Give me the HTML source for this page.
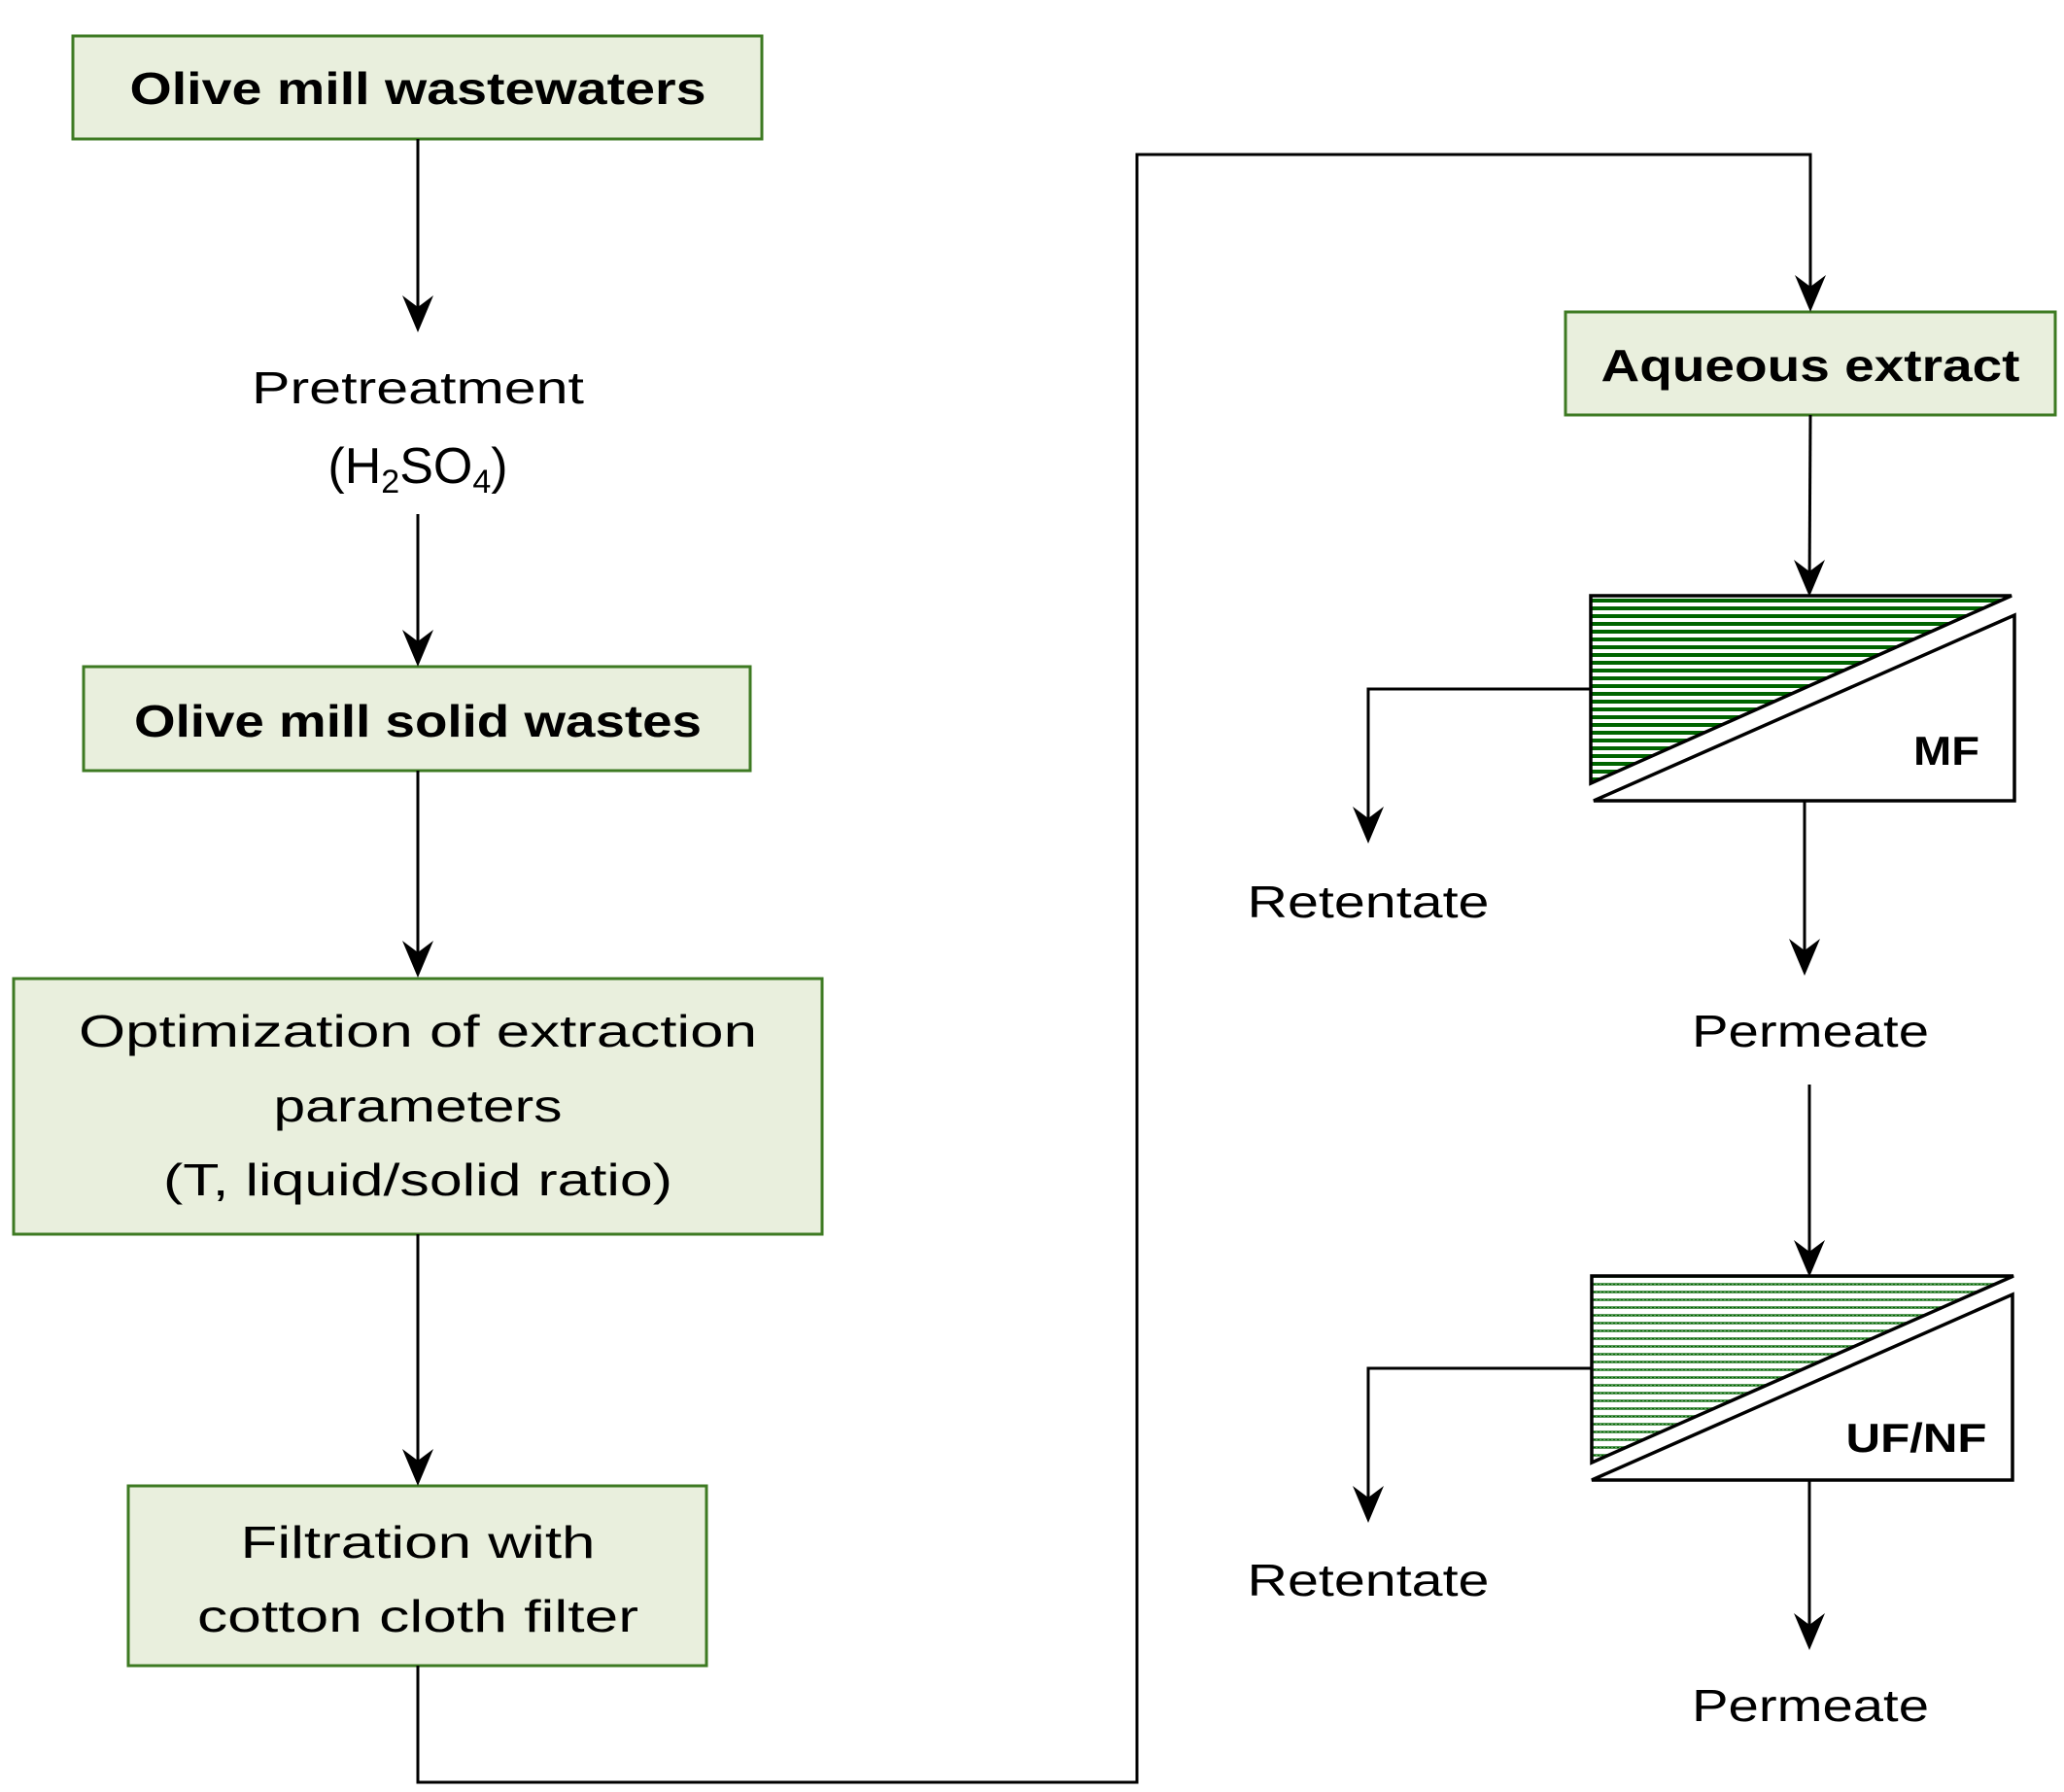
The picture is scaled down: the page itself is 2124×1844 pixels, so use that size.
<!DOCTYPE html>
<html><head><meta charset="utf-8"><style>html,body{margin:0;padding:0;background:#fff}svg{display:block}</style></head>
<body>
<svg width="2124" height="1844" viewBox="0 0 2124 1844" xmlns="http://www.w3.org/2000/svg" font-family="'Liberation Sans', sans-serif">
<defs>
<pattern id="h1" width="8" height="8" patternUnits="userSpaceOnUse"><rect width="8" height="8" fill="#fff"/><rect y="0" width="8" height="4" fill="#006400"/></pattern>
<pattern id="h2" width="8" height="8" patternUnits="userSpaceOnUse"><rect width="8" height="8" fill="#fff"/><rect y="0" width="8" height="3" fill="#5a9a5a"/><rect x="0" y="1" width="2" height="1" fill="#006400"/><rect x="4" y="1" width="2" height="1" fill="#006400"/></pattern>
</defs>
<g fill="#e9efdd" stroke="#3d7a22" stroke-width="3">
<rect x="75" y="37" width="709" height="106"/>
<rect x="86" y="686" width="686" height="107"/>
<rect x="14" y="1007" width="832" height="263"/>
<rect x="132" y="1529" width="595" height="185"/>
<rect x="1611" y="321" width="504" height="106"/>
</g>
<g stroke="#000" stroke-width="3" fill="none">
<line x1="430" y1="143" x2="430" y2="335"/>
<line x1="430" y1="529" x2="430" y2="680"/>
<line x1="430" y1="793" x2="430" y2="1000"/>
<line x1="430" y1="1270" x2="430" y2="1524"/>
<polyline points="430,1714 430,1834 1170,1834 1170,159 1863,159 1863,316"/>
<line x1="1863" y1="427" x2="1862" y2="608"/>
<polyline points="1637,709 1408,709 1408,862"/>
<line x1="1857" y1="824" x2="1857" y2="998"/>
<line x1="1862" y1="1116" x2="1862" y2="1308"/>
<polyline points="1638,1408 1408,1408 1408,1561"/>
<line x1="1862" y1="1523" x2="1862" y2="1692"/>
</g>
<g fill="#000">
<polygon points="430,342 414,304 430,316 446,304"/>
<polygon points="430,686 414,648 430,660 446,648"/>
<polygon points="430,1006 414,968 430,980 446,968"/>
<polygon points="430,1529 414,1491 430,1503 446,1491"/>
<polygon points="1863,321 1847,283 1863,295 1879,283"/>
<polygon points="1862,614 1846,576 1862,588 1878,576"/>
<polygon points="1408,868 1392,830 1408,842 1424,830"/>
<polygon points="1857,1004 1841,966 1857,978 1873,966"/>
<polygon points="1862,1314 1846,1276 1862,1288 1878,1276"/>
<polygon points="1408,1567 1392,1529 1408,1541 1424,1529"/>
<polygon points="1862,1698 1846,1660 1862,1672 1878,1660"/>
</g>
<g stroke="#000" stroke-width="3.5" stroke-linejoin="miter">
<polygon points="1637,613 2070,613 1637,806" fill="url(#h1)"/>
<polygon points="2073,633 2073,824 1640,824" fill="#fff"/>
<polygon points="1638,1313 2072,1313 1638,1505" fill="url(#h2)"/>
<polygon points="2071,1332 2071,1523 1638,1523" fill="#fff"/>
</g>
<g text-anchor="middle" font-weight="bold" font-size="46" fill="#000">
<text x="430" y="107" textLength="593" lengthAdjust="spacingAndGlyphs">Olive mill wastewaters</text>
<text x="430" y="758" textLength="584" lengthAdjust="spacingAndGlyphs">Olive mill solid wastes</text>
<text x="1863" y="392" textLength="431" lengthAdjust="spacingAndGlyphs">Aqueous extract</text>
<text x="2003" y="787" font-size="42" textLength="68" lengthAdjust="spacingAndGlyphs">MF</text>
<text x="1972" y="1494" font-size="42" textLength="145" lengthAdjust="spacingAndGlyphs">UF/NF</text>
</g>
<g text-anchor="middle" font-size="46" fill="#000">
<text x="430" y="415" textLength="342" lengthAdjust="spacingAndGlyphs">Pretreatment</text>
<text x="430" y="497" font-size="52">(H<tspan font-size="34" dy="10">2</tspan><tspan dy="-10">SO</tspan><tspan font-size="34" dy="10">4</tspan><tspan dy="-10">)</tspan></text>
<text x="430" y="1077" textLength="698" lengthAdjust="spacingAndGlyphs">Optimization  of extraction</text>
<text x="430" y="1154" textLength="297" lengthAdjust="spacingAndGlyphs">parameters</text>
<text x="430" y="1230" textLength="524" lengthAdjust="spacingAndGlyphs">(T, liquid/solid ratio)</text>
<text x="430" y="1603" textLength="365" lengthAdjust="spacingAndGlyphs">Filtration with</text>
<text x="430" y="1679" textLength="454" lengthAdjust="spacingAndGlyphs">cotton cloth filter</text>
<text x="1408" y="944" textLength="249" lengthAdjust="spacingAndGlyphs">Retentate</text>
<text x="1863" y="1077" textLength="244" lengthAdjust="spacingAndGlyphs">Permeate</text>
<text x="1408" y="1642" textLength="249" lengthAdjust="spacingAndGlyphs">Retentate</text>
<text x="1863" y="1771" textLength="244" lengthAdjust="spacingAndGlyphs">Permeate</text>
</g>
</svg>
</body></html>
